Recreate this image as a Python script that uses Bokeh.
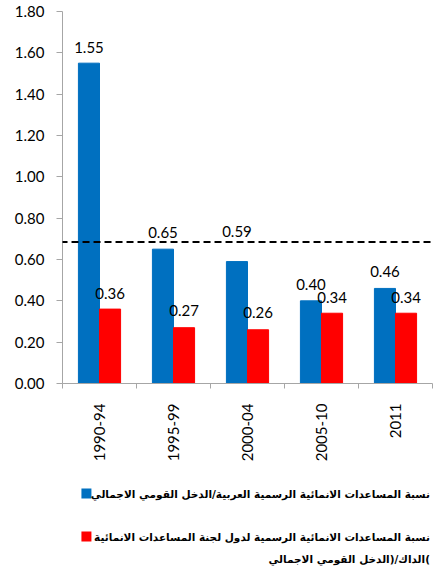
from bokeh.plotting import figure
from bokeh.models import ColumnDataSource, Range1d, FixedTicker, NumeralTickFormatter, Arrow
from bokeh.layouts import column
from bokeh.transform import dodge
from bokeh.core.properties import value
from bokeh.embed import file_html
from bokeh.resources import INLINE

# ---- data ----
categories = ["1990-94", "1995-99", "2000-04", "2005-10", "2011"]
arab_oda = [1.55, 0.65, 0.59, 0.40, 0.46]
dac_oda = [0.36, 0.27, 0.26, 0.34, 0.34]
y_ticks = [0.0, 0.2, 0.4, 0.6, 0.8, 1.0, 1.2, 1.4, 1.6, 1.8]
reference_level = 0.685
RLI, PDI = "\u2067", "\u2069"
legend_line1 = RLI + "نسبة المساعدات الانمائية الرسمية العربية/الدخل القومي الاجمالي" + PDI
legend_line2 = RLI + "نسبة المساعدات الانمائية الرسمية لدول لجنة المساعدات الانمائية" + PDI
legend_line3 = RLI + ")الداك/(الدخل القومي الاجمالي" + PDI

# label styling (pixel offsets above bar tops; the 2000-04 label sits higher in the slide)
blue_label_offsets = [-16, -17, -30, -16, -17]
red_label_offsets = [-16, -17, -17, -16, -16]

BLUE = "#0070C0"
RED = "#FF0000"
AXIS_GRAY = "#A6A6A6"
NUM_FONT = value("Lato")
AR_FONT = value("DejaVu Sans")

centers = [i + 0.5 for i in range(len(categories))]
src = ColumnDataSource(dict(
    x=centers,
    blue=arab_oda,
    red=dac_oda,
    blue_lbl=["%.2f" % v for v in arab_oda],
    red_lbl=["%.2f" % v for v in dac_oda],
    blue_dy=blue_label_offsets,
    red_dy=red_label_offsets,
))

p = figure(width=433, height=473, output_backend="svg", toolbar_location=None,
           x_range=Range1d(0, len(categories)), y_range=Range1d(0, 1.8),
           min_border_left=62, min_border_right=1, min_border_top=11, min_border_bottom=90)
p.outline_line_color = None
p.xgrid.visible = False
p.ygrid.visible = False
p.background_fill_color = "white"
p.border_fill_color = "white"

bw = 0.285
p.vbar(x=dodge("x", -bw / 2), top="blue", width=bw, color=BLUE, source=src)
p.vbar(x=dodge("x", bw / 2), top="red", width=bw, color=RED, source=src)

p.text(x=dodge("x", -bw / 2), y="blue", text="blue_lbl", source=src,
       text_align="center", text_baseline="middle", y_offset="blue_dy",
       text_font=NUM_FONT, text_font_size="15px", text_color="black")
p.text(x=dodge("x", bw / 2), y="red", text="red_lbl", source=src,
       text_align="center", text_baseline="middle", y_offset="red_dy",
       text_font=NUM_FONT, text_font_size="15px", text_color="black")

# dashed reference line
p.add_layout(Arrow(end=None, x_start=-0.77, y_start=reference_level,
                   x_end=len(categories), y_end=reference_level,
                   line_dash="7 4", line_width=2, line_color="black"))

# x axis
xa = p.xaxis[0]
xa.ticker = FixedTicker(ticks=centers, minor_ticks=list(range(len(categories) + 1)))
xa.major_label_overrides = {c: lab for c, lab in zip(centers, categories)}
xa.major_label_orientation = 1.5707963267948966
xa.major_tick_line_color = None
xa.major_tick_out = 0
xa.major_tick_in = 0
xa.minor_tick_out = 5
xa.minor_tick_in = 0
xa.minor_tick_line_color = AXIS_GRAY
xa.axis_line_color = AXIS_GRAY
xa.major_label_standoff = 15
xa.major_label_text_font = "Lato"
xa.major_label_text_font_size = "15px"
xa.major_label_text_color = "black"

# y axis
ya = p.yaxis[0]
ya.ticker = FixedTicker(ticks=y_ticks, minor_ticks=[])
ya.formatter = NumeralTickFormatter(format="0.00")
ya.major_tick_out = 6
ya.major_tick_in = 0
ya.major_tick_line_color = AXIS_GRAY
ya.minor_tick_line_color = None
ya.axis_line_color = AXIS_GRAY
ya.major_label_standoff = 12
ya.major_label_text_font = "Lato"
ya.major_label_text_font_size = "15px"
ya.major_label_text_color = "black"

# legend panel
p2 = figure(width=433, height=100, output_backend="svg", toolbar_location=None,
            x_range=Range1d(0, 433), y_range=Range1d(100, 0),
            x_axis_type=None, y_axis_type=None,
            min_border_left=0, min_border_right=0, min_border_top=0, min_border_bottom=0)
p2.outline_line_color = None
p2.xgrid.visible = False
p2.ygrid.visible = False
p2.border_fill_color = "white"

p2.scatter(x=[28, 28], y=[20, 63], marker="square", size=10, color=[BLUE, RED], line_color=None)
p2.text(x=[430, 430, 430], y=[20, 63, 85], text=[legend_line1, legend_line2, legend_line3],
        text_align="right", text_baseline="middle",
        text_font=AR_FONT, text_font_style="bold", text_font_size="10.5px",
        text_color="black")

layout = column(p, p2, spacing=0)
open("out.html", "w").write(file_html(layout, INLINE))
